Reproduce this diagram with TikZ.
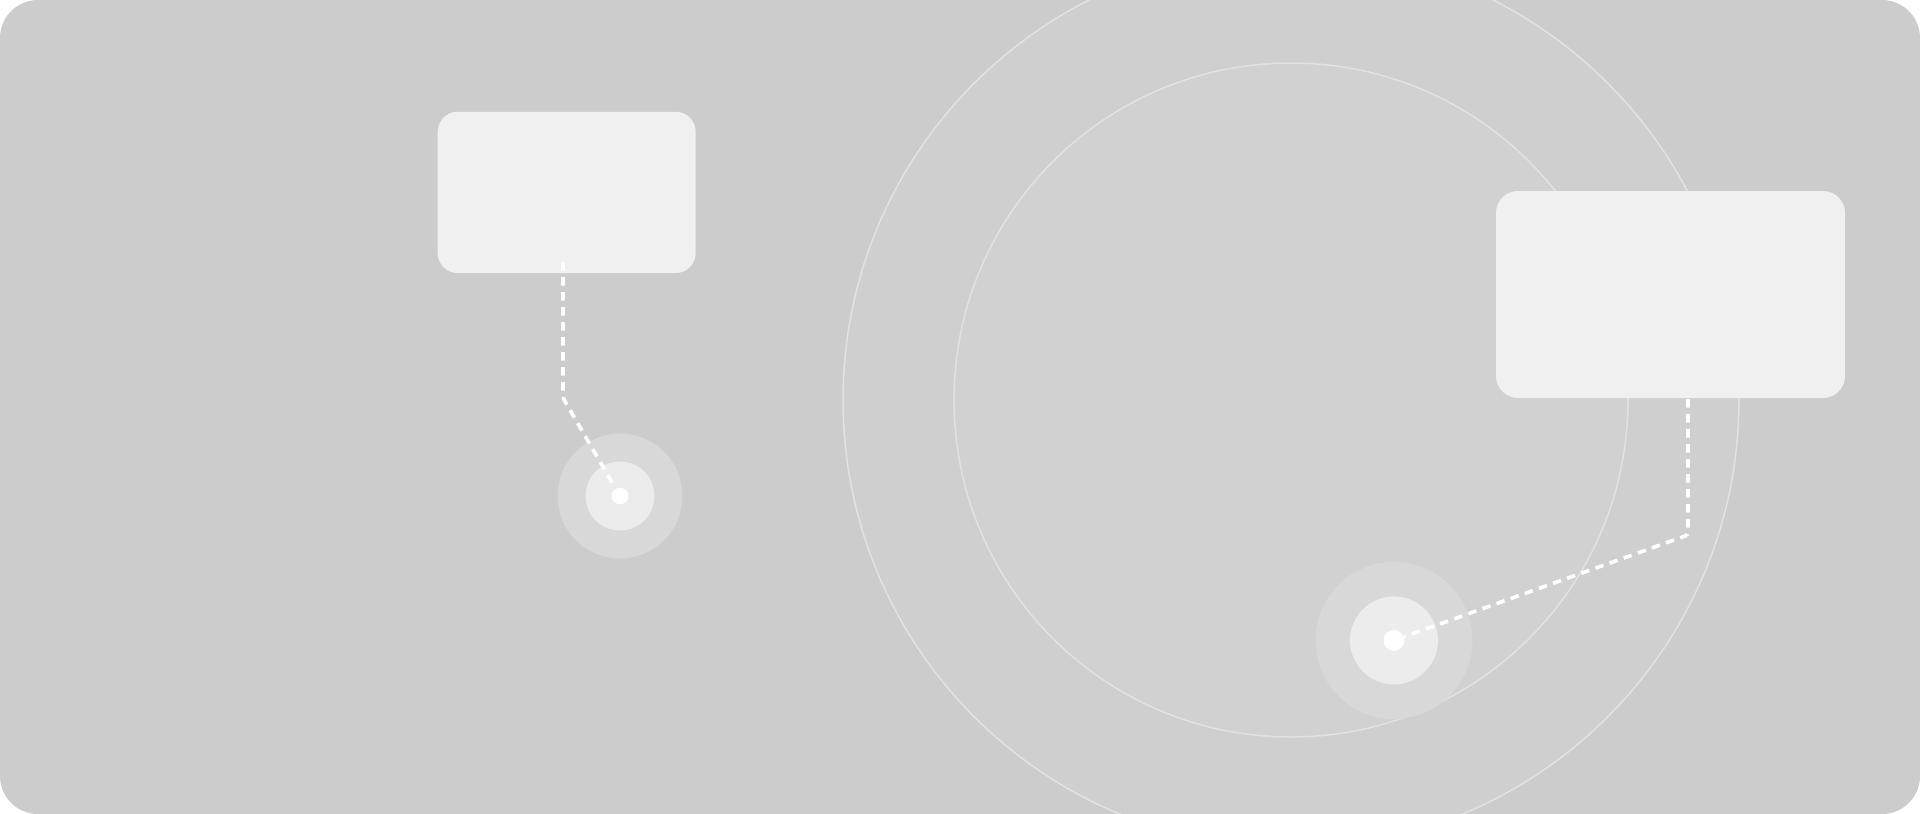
\documentclass[tikz,border=0pt]{standalone}
\definecolor{bgc}{HTML}{CCCCCC}
\definecolor{orbout}{HTML}{CFCFCF}
\definecolor{orbin}{HTML}{D1D1D1}
\definecolor{orbline}{HTML}{E2E2E2}
\definecolor{cardc}{HTML}{F0F0F0}
\definecolor{haloc}{HTML}{D8D8D8}
\definecolor{midc}{HTML}{ECECEC}
\begin{document}
\begin{tikzpicture}[x=1pt,y=-1pt,
  card/.style={rectangle, rounded corners=#1, fill=cardc, draw=none, inner sep=0pt},
  card/.default=20pt,
  halo/.style={circle, fill=haloc, draw=none, inner sep=0pt},
  midring/.style={circle, fill=midc, draw=none, inner sep=0pt},
  core/.style={circle, fill=white, draw=none, inner sep=0pt},
  orbit/.style={draw=orbline, line width=1.5pt},
  conn/.style={draw=white, line width=3.6pt, dash pattern=on 8.5pt off 6.5pt, rounded corners=3pt}]
\useasboundingbox (0,0) rectangle (1920,814);
\fill[bgc, rounded corners=38pt] (0,0) rectangle (1920,814);
\begin{scope}
  \clip[rounded corners=38pt] (0,0) rectangle (1920,814);
  \draw[orbit, fill=orbout] (1291,400) circle[radius=448pt];
  \draw[orbit, fill=orbin] (1291,400) circle[radius=337pt];
\end{scope}
% cards
\node[card=20pt, minimum width=258pt, minimum height=161.3pt] (b1) at (566.7,192.4) {};
\node[card=22pt, minimum width=349pt, minimum height=207pt] (b2) at (1670.5,294.5) {};
% dots
\node[halo, minimum size=125pt] (d1halo) at (620,496) {};
\node[midring, minimum size=69pt] (d1mid) at (620,496) {};
\node[core, minimum size=16.6pt] (d1) at (620,496) {};
\node[halo, minimum size=157pt] (d2halo) at (1394,640.4) {};
\node[midring, minimum size=88pt] (d2mid) at (1394,640.4) {};
\node[core, minimum size=21pt] (d2) at (1394,640.4) {};
% connectors
\coordinate (s1) at (563,262);
\coordinate (k1) at (563,398);
\draw[conn, shorten >=6pt] (s1) -- (k1) -- (d1);
\coordinate (s2) at (1688,399);
\coordinate (k2) at (1688,535);
\draw[conn] (s2) -- (k2) -- (d2);
\end{tikzpicture}
\end{document}
